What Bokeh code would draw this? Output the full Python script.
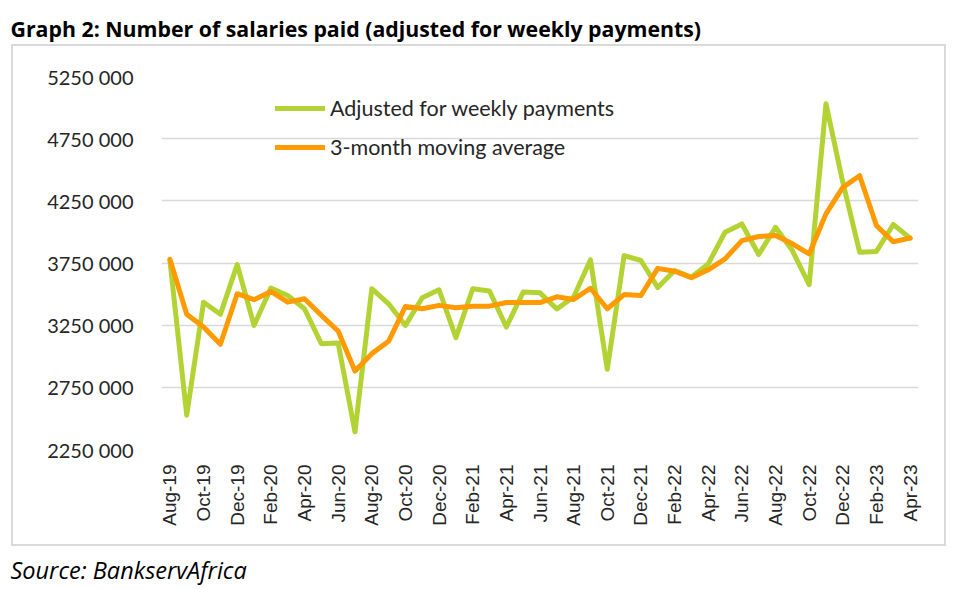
from bokeh.plotting import figure
from bokeh.layouts import column
from bokeh.models import (Range1d, FixedTicker, Label, Legend, LegendItem,
                          ColumnDataSource)
from bokeh.embed import file_html
from bokeh.resources import INLINE
import math

# ---------------- data ----------------
months = ["Aug-19", "Sep-19", "Oct-19", "Nov-19", "Dec-19",
          "Jan-20", "Feb-20", "Mar-20", "Apr-20", "May-20", "Jun-20",
          "Jul-20", "Aug-20", "Sep-20", "Oct-20", "Nov-20", "Dec-20",
          "Jan-21", "Feb-21", "Mar-21", "Apr-21", "May-21", "Jun-21",
          "Jul-21", "Aug-21", "Sep-21", "Oct-21", "Nov-21", "Dec-21",
          "Jan-22", "Feb-22", "Mar-22", "Apr-22", "May-22", "Jun-22",
          "Jul-22", "Aug-22", "Sep-22", "Oct-22", "Nov-22", "Dec-22",
          "Jan-23", "Feb-23", "Mar-23", "Apr-23"]

adjusted = [3770000, 2526000, 3435000, 3337000, 3738000,
            3248000, 3548000, 3489000, 3382000, 3101000, 3106000,
            2392000, 3543000, 3422000, 3248000, 3471000, 3535000,
            3150000, 3543000, 3524000, 3235000, 3516000, 3510000,
            3380000, 3476000, 3776000, 2895000, 3810000, 3770000,
            3552000, 3690000, 3636000, 3743000, 3997000, 4064000,
            3818000, 4037000, 3850000, 3575000, 5030000, 4400000,
            3837000, 3843000, 4060000, 3950000]

moving_avg = [3780000, 3337000, 3235000, 3096000, 3503000,
              3455000, 3521000, 3435000, 3463000, 3329000, 3203000,
              2882000, 3021000, 3120000, 3401000, 3382000, 3409000,
              3390000, 3403000, 3403000, 3432000, 3432000, 3432000,
              3478000, 3457000, 3547000, 3382000, 3496000, 3489000,
              3707000, 3684000, 3631000, 3695000, 3783000, 3930000,
              3963000, 3971000, 3904000, 3823000, 4145000, 4358000,
              4452000, 4051000, 3921000, 3950000]

y_ticks = [2250000, 2750000, 3250000, 3750000, 4250000, 4750000, 5250000]
y_tick_labels = ["2250 000", "2750 000", "3250 000", "3750 000",
                 "4250 000", "4750 000", "5250 000"]

series_names = ["Adjusted for weekly payments", "3-month moving average"]
title_text = "Graph 2: Number of salaries paid (adjusted for weekly payments)"
source_text = "Source: BankservAfrica"

# ---------------- styling ----------------
GREEN = "#B3D335"
ORANGE = "#FF9A00"
GRID = "#D9D9D9"
TEXT = "#262626"


def text_strip(w, h, label):
    f = figure(width=w, height=h, output_backend="svg", toolbar_location=None,
               title=None,
               x_range=Range1d(0, w), y_range=Range1d(0, h),
               min_border=0, x_axis_type=None, y_axis_type=None,
               frame_align=False)
    f.grid.visible = False
    f.outline_line_color = None
    f.add_layout(label)
    return f


title_fig = text_strip(954, 44, Label(x=10, y=16.5, text=title_text,
                                      text_font="Open Sans", text_font_style="bold",
                                      text_font_size="21.3px", text_color="#000000",
                                      text_baseline="middle"))

# ---------------- main chart ----------------
idx = list(range(len(months)))
src = ColumnDataSource(dict(x=idx, month=months, adj=adjusted, ma=moving_avg))

p = figure(width=935, height=502, output_backend="svg", toolbar_location=None,
           title=None,
           x_range=Range1d(-0.5, len(months) - 0.5),
           y_range=Range1d(y_ticks[0], y_ticks[-1]),
           min_border_left=148, min_border_right=30,
           min_border_top=30, min_border_bottom=99,
           frame_align=False,
           styles={"border": "2px solid #D9D9D9", "box-sizing": "border-box"})
p.margin = (0, 0, 0, 11)
p.outline_line_color = None

r1 = p.line("x", "adj", source=src, line_color=GREEN, line_width=5,
            line_join="round", line_cap="round")
r2 = p.line("x", "ma", source=src, line_color=ORANGE, line_width=5,
            line_join="round", line_cap="round")

p.yaxis.ticker = FixedTicker(ticks=y_ticks)
p.yaxis.major_label_overrides = {t: l for t, l in zip(y_ticks, y_tick_labels)}
p.yaxis.axis_line_color = None
p.yaxis.major_tick_line_color = None
p.yaxis.minor_tick_line_color = None
p.yaxis.major_tick_out = 0
p.yaxis.major_tick_in = 0
p.yaxis.major_label_standoff = 28
p.yaxis.major_label_text_font = "Lato"
p.yaxis.major_label_text_font_size = "20px"
p.yaxis.major_label_text_color = TEXT

x_ticks = idx[::2]
p.xaxis.ticker = FixedTicker(ticks=x_ticks)
p.xaxis.major_label_overrides = {i: months[i] for i in x_ticks}
p.xaxis.major_label_orientation = math.pi / 2
p.xaxis.axis_line_color = None
p.xaxis.major_tick_line_color = None
p.xaxis.minor_tick_line_color = None
p.xaxis.major_tick_out = 0
p.xaxis.major_tick_in = 0
p.xaxis.major_label_standoff = 15
p.xaxis.major_label_text_font = "Liberation Sans"
p.xaxis.major_label_text_font_size = "19px"
p.xaxis.major_label_text_color = TEXT

p.xgrid.grid_line_color = None
p.ygrid.ticker = FixedTicker(ticks=y_ticks)
p.ygrid.grid_line_color = GRID
p.ygrid.grid_line_width = 1.5

legend = Legend(items=[LegendItem(label=series_names[0], renderers=[r1]),
                       LegendItem(label=series_names[1], renderers=[r2])],
                location=(114, 289), orientation="vertical",
                glyph_width=50, glyph_height=24, label_height=24,
                label_standoff=5, spacing=13, padding=0, margin=0,
                border_line_color=None, background_fill_alpha=0,
                label_text_font="Lato", label_text_font_size="21.5px",
                label_text_color=TEXT)
p.add_layout(legend, "center")

source_fig = text_strip(954, 43, Label(x=10, y=19.5, text=source_text,
                                       text_font="Open Sans", text_font_style="italic",
                                       text_font_size="23.5px", text_color="#000000",
                                       text_baseline="middle"))

layout = column(title_fig, p, source_fig, spacing=0)

open("out.html", "w").write(file_html(layout, INLINE))
